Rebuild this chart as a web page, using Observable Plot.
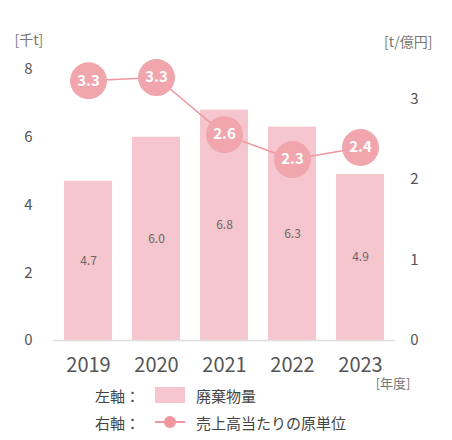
<!DOCTYPE html>
<html><head><meta charset="utf-8">
<script src="https://cdn.jsdelivr.net/npm/d3@7"></script>
<script src="https://cdn.jsdelivr.net/npm/@observablehq/plot@0.6"></script>
<style>
body{margin:0;background:#fff;font-family:"Noto Sans CJK JP","Noto Sans",sans-serif;}
#wrap{position:relative;width:452px;height:440px;}
#legend{position:absolute;left:0;top:380px;width:452px;font-size:15px;color:#444;}
.row{position:absolute;left:95px;height:22px;display:flex;align-items:center;}
.lab{width:60px;}
.sw{width:30px;height:16px;background:#f6c6ce;}
.ln{position:relative;width:30px;height:16px;}
.ln:before{content:"";position:absolute;left:0;right:0;top:7px;height:2px;background:#f0969f;}
.ln:after{content:"";position:absolute;left:9px;top:2px;width:12px;height:12px;border-radius:50%;background:#f0969f;}
.txt{margin-left:11px;}
</style></head>
<body><div id="wrap"><div id="chart"></div>
<div id="legend">
<div class="row" style="top:4px"><span class="lab">左軸：</span><span class="sw"></span><span class="txt">廃棄物量</span></div>
<div class="row" style="top:31px"><span class="lab">右軸：</span><span class="ln"></span><span class="txt">売上高当たりの原単位</span></div>
</div></div>
<script>
const years = ["2019","2020","2021","2022","2023"];
const waste = [4.7, 6.0, 6.8, 6.3, 4.9];          // 千t (left axis)
const intensity = [3.23, 3.27, 2.56, 2.25, 2.40];  // t/億円 (right axis, measured positions)
const intensityLabels = ["3.3","3.3","2.6","2.3","2.4"];
const leftTicks = [0,2,4,6,8];
const rightTicks = [0,1,2,3];
const rightMax = 3.37;
const k = 8 / rightMax;

const bars = years.map((y,i)=>({year:y, v:waste[i]}));
const pts = years.map((y,i)=>({year:y, r:intensity[i]*k, label:intensityLabels[i]}));

const font = '"Noto Sans CJK JP","Noto Sans",sans-serif';
const plot = Plot.plot({
  width:452, height:440,
  marginLeft:53, marginRight:57, marginTop:69, marginBottom:100,
  style:{fontFamily:font, background:"transparent"},
  x:{domain:years, paddingInner:0.3, paddingOuter:0.15, label:null},
  y:{domain:[0,8], label:null},
  marks:[
    Plot.barY(bars,{x:"year", y:"v", fill:"#f6c6ce"}),
    Plot.ruleY([0],{stroke:"#dddddd", strokeWidth:1.5}),
    Plot.text(bars,{x:"year", y:d=>d.v/2, text:d=>d.v.toFixed(1), fill:"#666", fontSize:12}),
    Plot.line(pts,{x:"year", y:"r", stroke:"#f0969f", strokeWidth:1.5}),
    Plot.dot(pts,{x:"year", y:"r", r:18.5, fill:"#f1a5ad"}),
    Plot.text(pts,{x:"year", y:"r", text:"label", fill:"#fff", fontSize:15, fontWeight:"bold"}),
    Plot.axisX({tickSize:0, tickPadding:17, fontSize:20, color:"#555", label:null}),
    Plot.axisY({anchor:"left", ticks:leftTicks, tickSize:0, tickPadding:25, textAnchor:"middle", fontSize:15, color:"#555", label:null}),
    Plot.axisY({anchor:"right", ticks:rightTicks.map(t=>t*k), tickFormat:t=>String(Math.round(t/k)), tickSize:0, tickPadding:19, textAnchor:"middle", fontSize:15, color:"#555", label:null}),
    Plot.text(["[千t]"],{frameAnchor:"top-left", dx:-39, dy:-34, text:d=>d, fill:"#777", fontSize:14}),
    Plot.text(["[t/億円]"],{frameAnchor:"top-right", dx:37, dy:-32, text:d=>d, fill:"#777", fontSize:14}),
    Plot.text(["[年度]"],{frameAnchor:"bottom-right", dx:15, dy:47, text:d=>d, fill:"#777", fontSize:13})
  ]
});
document.getElementById("chart").appendChild(plot);
</script></body></html>
